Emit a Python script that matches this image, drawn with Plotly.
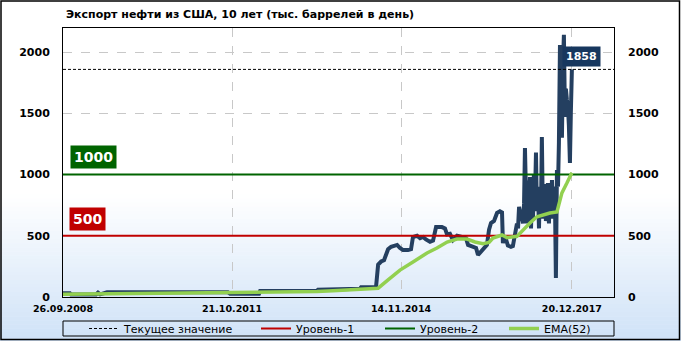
import plotly.graph_objects as go

# ---------------- data ----------------
export_dates = [
    "2008-09-26", "2008-11-11", "2008-11-18", "2009-05-03", "2009-05-16", "2009-05-30",
    "2009-07-15", "2011-09-24", "2011-10-08", "2012-04-17", "2012-04-24", "2013-05-06",
    "2013-05-13", "2013-08-20", "2013-08-27", "2014-02-15", "2014-02-22", "2014-06-01",
    "2014-06-15", "2014-07-05", "2014-07-24", "2014-08-07", "2014-08-20", "2014-09-09",
    "2014-09-29", "2014-10-19", "2014-11-07", "2014-11-27", "2014-12-30", "2015-01-19",
    "2015-02-01", "2015-02-28", "2015-03-20", "2015-04-09", "2015-04-28", "2015-05-25",
    "2015-06-14", "2015-07-04", "2015-08-12", "2015-09-01", "2015-09-15", "2015-10-04",
    "2015-10-24", "2015-11-20", "2015-12-10", "2015-12-29", "2016-01-18", "2016-02-01",
    "2016-03-05", "2016-03-25", "2016-04-07", "2016-04-20", "2016-05-10", "2016-06-05",
    "2016-06-19", "2016-07-02", "2016-07-22", "2016-08-11", "2016-08-30", "2016-09-13",
    "2016-09-19", "2016-10-02", "2016-10-22", "2016-11-11", "2016-11-24", "2016-12-08",
    "2016-12-21", "2016-12-28", "2017-01-04", "2017-01-10", "2017-01-17", "2017-01-23",
    "2017-01-30", "2017-02-06", "2017-02-12", "2017-02-19", "2017-02-25", "2017-03-04",
    "2017-03-10", "2017-03-17", "2017-03-24", "2017-03-30", "2017-04-06", "2017-04-12",
    "2017-04-19", "2017-04-26", "2017-05-02", "2017-05-09", "2017-05-16", "2017-05-22",
    "2017-05-29", "2017-06-04", "2017-06-11", "2017-06-17", "2017-06-24", "2017-07-01",
    "2017-07-08", "2017-07-14", "2017-07-21", "2017-07-27", "2017-08-03", "2017-08-10",
    "2017-08-16", "2017-08-22", "2017-08-29", "2017-09-05", "2017-09-12", "2017-09-19",
    "2017-09-25", "2017-10-02", "2017-10-08", "2017-10-15", "2017-10-22", "2017-10-28",
    "2017-11-04", "2017-11-10", "2017-11-17", "2017-11-24", "2017-11-30", "2017-12-07",
    "2017-12-13", "2017-12-20",
]
export_values = [
    30, 30, 20, 20, 35, 22,
    38, 38, 27, 27, 49, 49,
    60, 60, 68, 68, 79, 79,
    265, 290, 300, 360, 390, 410,
    420, 425, 400, 383, 383, 390,
    490, 500, 480, 490, 470, 450,
    460, 571, 571, 560, 510, 515,
    465, 500, 495, 490, 480, 425,
    410, 400, 343, 360, 390, 425,
    550, 604, 620, 686, 700, 690,
    440, 500, 420, 410, 416, 520,
    600, 560, 735, 700, 620, 680,
    600, 760, 1216, 820, 600, 950,
    640, 980, 560, 820, 620, 1000,
    780, 1180, 700, 880, 560, 900,
    700, 1306, 640, 920, 880, 620,
    820, 930, 600, 860, 700, 955,
    640, 900, 873, 155, 1037, 900,
    1260, 2057, 1500, 1300, 1900, 2140,
    1470, 1700, 1608, 1550, 1400, 1094,
    1500, 1858,
]

ema_dates = [
    "2008-09-26", "2009-07-15", "2011-09-24", "2012-04-24", "2013-05-06", "2013-08-20",
    "2014-02-15", "2014-06-01", "2014-06-15", "2014-08-20", "2014-11-07", "2015-02-01",
    "2015-05-05", "2015-07-10", "2015-09-15", "2015-11-20", "2016-01-25", "2016-03-18",
    "2016-05-10", "2016-06-19", "2016-07-15", "2016-09-13", "2016-10-16", "2016-12-21",
    "2017-01-30", "2017-03-17", "2017-05-02", "2017-06-24", "2017-07-27", "2017-09-12",
    "2017-10-15", "2017-11-17", "2017-12-20",
]
ema_values = [
    22, 26, 32, 33, 45, 52,
    62, 68, 72, 139, 220, 286,
    359, 400, 449, 473, 473, 449,
    435, 445, 481, 506, 485, 495,
    547, 604, 655, 675, 686, 694,
    850, 930, 1015,
]

current_value = 1858
level_1 = 500
level_2 = 1000

axis_start = "2008-09-26"
axis_end = "2018-09-25"
tick_dates = ["2008-09-26", "2011-10-21", "2014-11-14", "2017-12-20"]
tick_labels = ["26.09.2008", "21.10.2011", "14.11.2014", "20.12.2017"]
y_ticks = [0, 500, 1000, 1500, 2000]
y_max = 2196

title_text = "Экспорт нефти из США, 10 лет (тыс. баррелей в день)"
legend_names = ["Текущее значение", "Уровень-1", "Уровень-2", "EMA(52)"]

# ---------------- geometry helpers ----------------
W, H = 681, 341
L, R, T, B = 63, 67, 28, 44
PW, PH = W - L - R, H - T - B


def px(xp):
    return (xp - L) / PW


def py(yp):
    return (H - B - yp) / PH


FONT = "DejaVu Sans"
NAVY = "#243f60"
RED = "#c00000"
GREEN = "#006400"
LIME = "#92d050"

fig = go.Figure()

fig.add_trace(go.Scatter(
    x=export_dates, y=export_values, mode="lines",
    line=dict(color=NAVY, width=4), showlegend=False, hoverinfo="skip"))

fig.add_trace(go.Scatter(
    x=[axis_start, axis_end], y=[current_value, current_value], mode="lines",
    line=dict(color="black", width=1, dash="3px,2px"), name=legend_names[0],
    legend="legend"))
fig.add_trace(go.Scatter(
    x=[axis_start, axis_end], y=[level_1, level_1], mode="lines",
    line=dict(color=RED, width=2), name=legend_names[1], legend="legend2"))
fig.add_trace(go.Scatter(
    x=[axis_start, axis_end], y=[level_2, level_2], mode="lines",
    line=dict(color=GREEN, width=2), name=legend_names[2], legend="legend3"))
fig.add_trace(go.Scatter(
    x=ema_dates, y=ema_values, mode="lines",
    line=dict(color=LIME, width=3.5), name=legend_names[3], legend="legend4"))
# invisible trace to activate right axis
fig.add_trace(go.Scatter(x=[axis_start], y=[0], yaxis="y2", mode="lines",
                         line=dict(width=0), showlegend=False, hoverinfo="skip"))

# ---------------- background gradient ----------------
shapes = []
g_top, g_bot = 195, H
n = 36
c0 = (255, 255, 255)
c1 = (207, 226, 247)
for i in range(n):
    y0p = g_top + (g_bot - g_top) * i / n
    y1p = g_top + (g_bot - g_top) * (i + 1) / n
    t = (i + 0.5) / n
    c = tuple(int(round(c0[k] + (c1[k] - c0[k]) * t)) for k in range(3))
    shapes.append(dict(type="rect", xref="paper", yref="paper",
                       x0=px(0), x1=px(W), y0=py(y1p), y1=py(y0p) + 0.002,
                       fillcolor="rgb(%d,%d,%d)" % c, line=dict(width=0), layer="below"))
# outer border
shapes.append(dict(type="rect", xref="paper", yref="paper",
                   x0=px(1), x1=px(679.5), y0=py(339.5), y1=py(1),
                   line=dict(color="black", width=1.5), fillcolor="rgba(0,0,0,0)", layer="above"))
# legend box
shapes.append(dict(type="rect", xref="paper", yref="paper",
                   x0=px(63), x1=px(614), y0=py(336), y1=py(321),
                   line=dict(color="black", width=1), fillcolor="rgba(0,0,0,0)", layer="above"))

annotations = [
    dict(text="<b>%d</b>" % level_2, xref="paper", yref="y", x=px(70), y=1147,
         xanchor="left", yanchor="middle", showarrow=False,
         font=dict(family=FONT, size=14, color="white"), bgcolor=GREEN,
         borderpad=3),
    dict(text="<b>%d</b>" % level_1, xref="paper", yref="y", x=px(69), y=633,
         xanchor="left", yanchor="middle", showarrow=False,
         font=dict(family=FONT, size=14, color="white"), bgcolor=RED,
         borderpad=3),
    dict(text="<b>%d</b>" % current_value, xref="paper", yref="y", x=px(581.5), y=1967,
         xanchor="center", yanchor="middle", showarrow=False,
         font=dict(family=FONT, size=11, color="white"), bgcolor="#17375e",
         borderpad=3),
]

leg_common = dict(orientation="h", xanchor="left", yanchor="middle",
                  xref="container", yref="container", y=1 - 328.5 / H,
                  bgcolor="rgba(0,0,0,0)", borderwidth=0,
                  font=dict(family=FONT, size=11, color="black"))

fig.update_layout(
    width=W, height=H,
    margin=dict(l=L, r=R, t=T, b=B, pad=0, autoexpand=False),
    paper_bgcolor="white",
    plot_bgcolor="rgba(0,0,0,0)",
    title=dict(text="<b>" + title_text + "</b>", x=66 / W, xanchor="left",
               y=1 - 14 / H, yanchor="middle", xref="container", yref="container",
               font=dict(family=FONT, size=11, color="black")),
    xaxis=dict(type="date", range=[axis_start, axis_end], tickvals=tick_dates,
               ticktext=tick_labels, showgrid=True, gridcolor="#c8c8c8", griddash="dash",
               gridwidth=1, showline=True, linecolor="black", linewidth=1, mirror=True,
               ticks="", ticklabelstandoff=3, zeroline=False, automargin=False,
               tickfont=dict(family=FONT, size=9.5, color="black", weight="bold")),
    yaxis=dict(range=[0, y_max], tickvals=y_ticks, showgrid=True, gridcolor="#c8c8c8",
               griddash="dash", gridwidth=1, showline=True, linecolor="black", linewidth=1,
               mirror=True, ticks="", ticklabelstandoff=10, zeroline=False, automargin=False,
               tickfont=dict(family=FONT, size=11, color="black", weight="bold")),
    yaxis2=dict(range=[0, y_max], tickvals=y_ticks, overlaying="y", side="right",
                showgrid=False, showline=False, ticks="", ticklabelstandoff=13,
                zeroline=False, automargin=False,
                tickfont=dict(family=FONT, size=11, color="black", weight="bold")),
    shapes=shapes,
    annotations=annotations,
    legend=dict(x=84 / W, **leg_common),
    legend2=dict(x=256 / W, **leg_common),
    legend3=dict(x=380 / W, **leg_common),
    legend4=dict(x=504 / W, **leg_common),
    showlegend=True,
    hovermode=False,
)

fig.write_html("out.html")
